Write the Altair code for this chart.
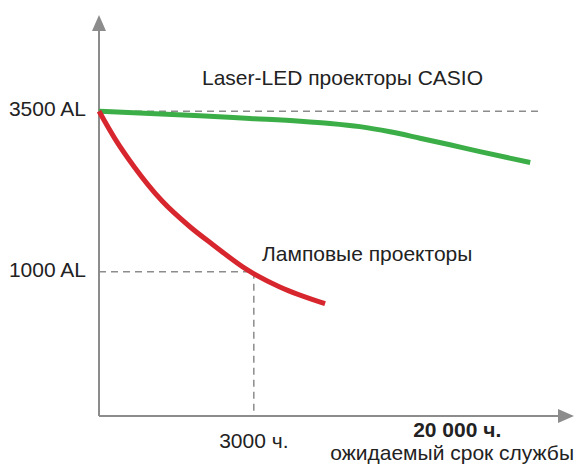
import altair as alt
import pandas as pd

# ---- data ----
laser_hours = [0, 1360, 2865, 4870, 6300, 7890, 9660, 11580, 13660, 15900, 20000]
laser_al = [3500, 3429, 3387, 3345, 3310, 3260, 3180, 3080, 2977, 2870, 2700]

lamp_hours = [0, 45, 200, 570, 1120, 1700, 2760, 4000, 6050]
lamp_al = [3500, 3070, 2620, 2100, 1700, 1420, 1030, 760, 500]

y_tick_values = [3500, 1000]
y_tick_labels = ["3500 AL", "1000 AL"]
x_tick_value = 3000
x_tick_label = "3000 ч."
life_hours = 20000
life_label = "20 000 ч."
life_caption = "ожидаемый срок службы"
laser_name = "Laser-LED проекторы CASIO"
lamp_name = "Ламповые проекторы"

X_MAX = 23923
Y_MIN, Y_MAX = -1250, 5000

FONT = "Liberation Sans"
FS = 21
GREY = "#8c8c8c"
TXT = "#222222"

xs = alt.Scale(type="pow", exponent=0.54, domain=[0, X_MAX], nice=False)
ys = alt.Scale(domain=[Y_MIN, Y_MAX], nice=False)


def X(f):
    return alt.X(f, type="quantitative", scale=xs, axis=None)


def Y(f):
    return alt.Y(f, type="quantitative", scale=ys, axis=None)


# axes drawn as rules with arrow heads
axis_y = alt.Chart(pd.DataFrame({"x": [0], "y": [Y_MIN], "y2": [4750]})).mark_rule(
    color=GREY, strokeWidth=2).encode(x=X("x"), y=Y("y"), y2="y2:Q")
axis_x = alt.Chart(pd.DataFrame({"x": [0], "x2": [22450], "y": [Y_MIN]})).mark_rule(
    color=GREY, strokeWidth=2).encode(x=X("x"), x2="x2:Q", y=Y("y"))
arrow_up = alt.Chart(pd.DataFrame({"x": [0], "y": [Y_MAX]})).mark_point(
    shape="M0,0L0.875,2L-0.875,2Z", size=256, filled=True, color=GREY, opacity=1,
    strokeWidth=0).encode(x=X("x"), y=Y("y"))
arrow_right = alt.Chart(pd.DataFrame({"x": [X_MAX], "y": [Y_MIN]})).mark_point(
    shape="M0,0L-2,-0.875L-2,0.875Z", size=256, filled=True, color=GREY, opacity=1,
    strokeWidth=0).encode(x=X("x"), y=Y("y"))

# dashed guides
dash = dict(color=GREY, strokeWidth=1.5, strokeDash=[7, 5])
guide_top = alt.Chart(pd.DataFrame({"x": [0], "x2": [20850], "y": [3500]})).mark_rule(**dash).encode(
    x=X("x"), x2="x2:Q", y=Y("y"))
guide_h = alt.Chart(pd.DataFrame({"x": [0], "x2": [x_tick_value], "y": [1000]})).mark_rule(**dash).encode(
    x=X("x"), x2="x2:Q", y=Y("y"))
guide_v = alt.Chart(pd.DataFrame({"x": [x_tick_value], "y": [1000], "y2": [Y_MIN]})).mark_rule(**dash).encode(
    x=X("x"), y=Y("y"), y2="y2:Q")

# series lines
laser = alt.Chart(pd.DataFrame({"h": laser_hours, "al": laser_al})).mark_line(
    color="#3cae47", strokeWidth=5, interpolate="monotone", strokeCap="butt").encode(
    x=X("h"), y=Y("al"))
lamp = alt.Chart(pd.DataFrame({"h": lamp_hours, "al": lamp_al})).mark_line(
    color="#d7262d", strokeWidth=5, interpolate="monotone", strokeCap="butt").encode(
    x=X("h"), y=Y("al"))


def label(texts, xv, yv, align="center", dx=0, dy=0, weight="normal"):
    df = pd.DataFrame({"x": xv, "y": yv, "t": texts})
    return alt.Chart(df).mark_text(
        align=align, baseline="middle", dx=dx, dy=dy, font=FONT, fontSize=FS,
        fontWeight=weight, color=TXT).encode(x=X("x"), y=Y("y"), text="t:N")


ylabels = label(y_tick_labels, [0, 0], y_tick_values, align="right", dx=-13, dy=-1)
xlabel = label([x_tick_label], [x_tick_value], [Y_MIN], dy=26)
life1 = label([life_label], [life_hours], [Y_MIN], dx=-73, dy=15, weight="bold")
life2 = label([life_caption], [X_MAX], [Y_MIN], align="right", dx=0, dy=38)
laser_lbl = label([laser_name], [6940], [4000])
lamp_lbl = label([lamp_name], [3300], [1260], align="left")

chart = alt.layer(
    guide_top, guide_h, guide_v, axis_y, axis_x, arrow_up, arrow_right,
    laser, lamp, ylabels, xlabel, life1, life2, laser_lbl, lamp_lbl
).properties(
    width=475, height=401,
    autosize=alt.AutoSizeParams(type="none"),
    padding={"left": 91, "top": 7, "right": 0, "bottom": 50},
    background="white",
).configure_view(strokeWidth=0)

chart.save("out.html", embed_options={"renderer": "svg", "actions": False})
